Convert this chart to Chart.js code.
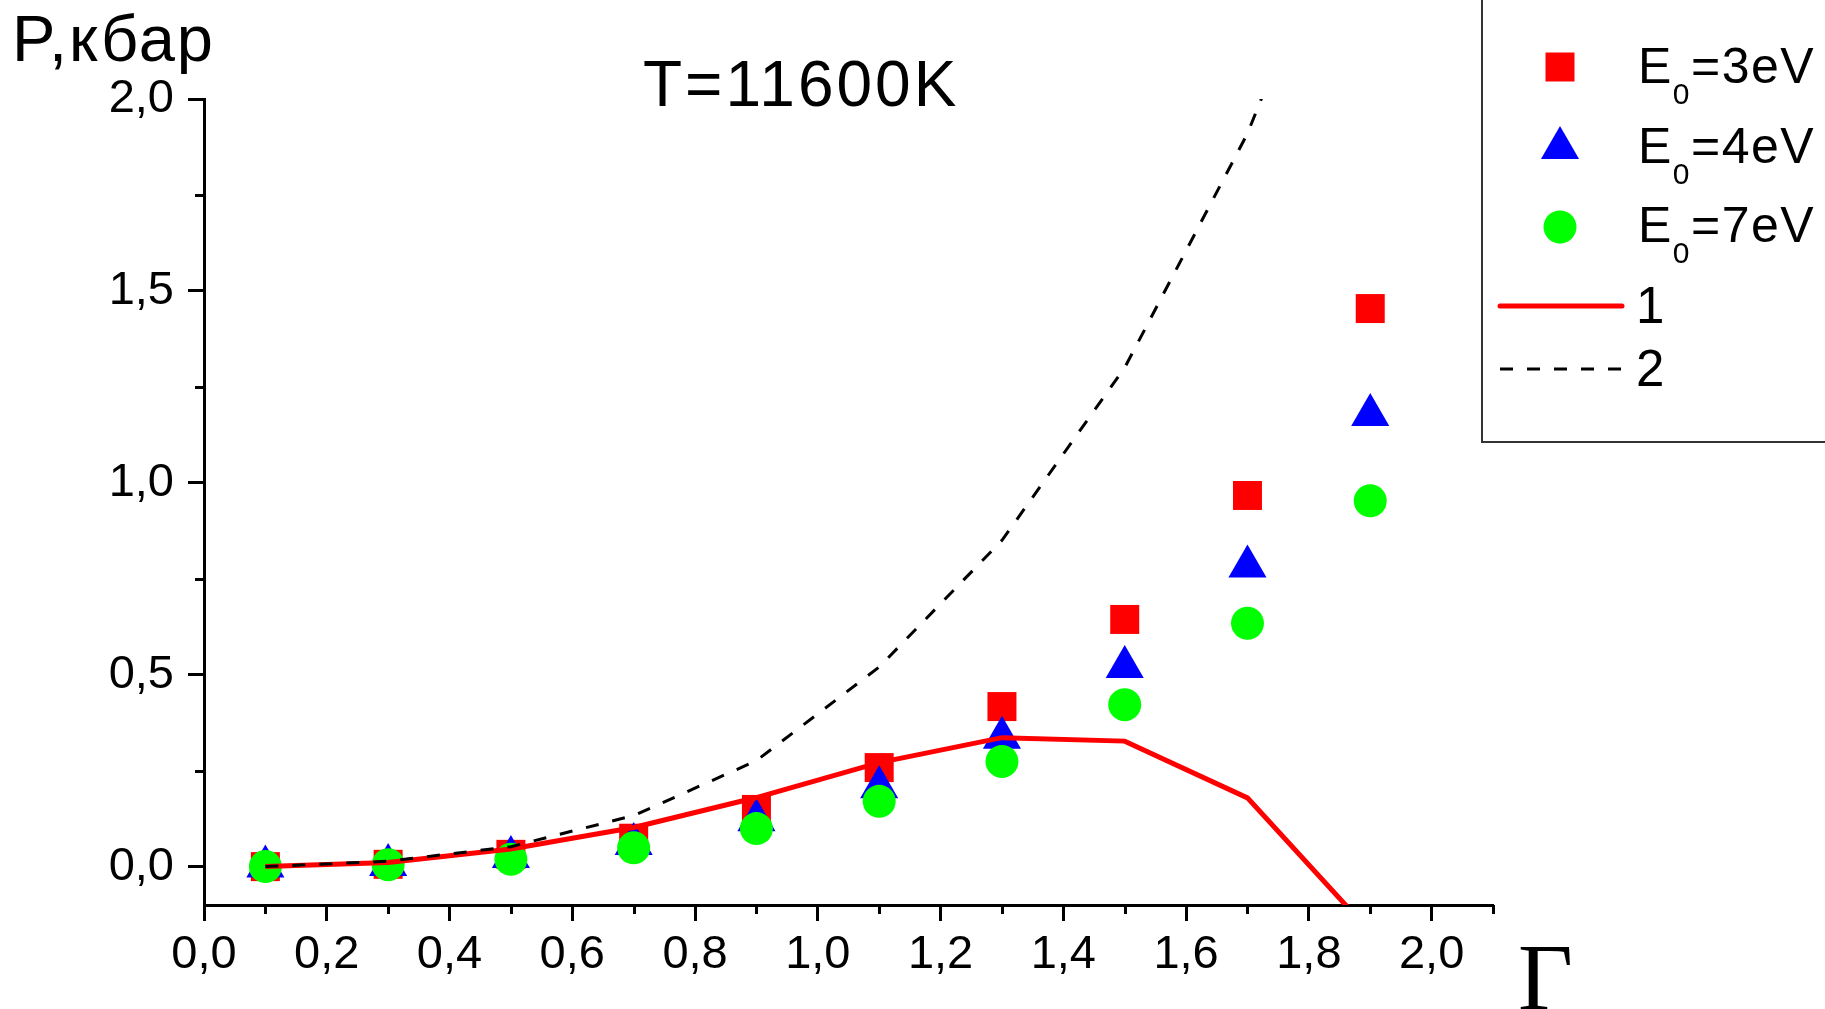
<!DOCTYPE html>
<html>
<head>
<meta charset="utf-8">
<title>P(Γ), T=11600K</title>
<script src="https://cdn.jsdelivr.net/npm/chart.js@4.4.1/dist/chart.umd.min.js"></script>
<style>
  html, body { margin: 0; padding: 0; background: #fff; }
  #wrap { position: relative; width: 1825px; height: 1009px; }
</style>
</head>
<body>
<div id="wrap"><canvas id="graph"></canvas></div>
<script>
// coupling parameter
const gamma = [0.1, 0.3, 0.5, 0.7, 0.9, 1.1, 1.3, 1.5, 1.7, 1.9];

// simulated pressure, kbar, for three cutoff energies
const energies = [3, 4, 7];
const p3eV = [0.0, 0.006, 0.032, 0.074, 0.149, 0.258, 0.417, 0.644, 0.967, 1.454];
const p4eV = [0.0, 0.004, 0.025, 0.059, 0.121, 0.207, 0.336, 0.520, 0.782, 1.177];
const p7eV = [0.0, 0.005, 0.019, 0.049, 0.099, 0.170, 0.274, 0.422, 0.634, 0.953];

// model curves 1 and 2
const curveNames = ['1', '2'];
const curve1 = [0.0, 0.011, 0.046, 0.102, 0.180, 0.271, 0.336, 0.327, 0.179, -0.17];
const curve2 = [0.0, 0.014, 0.052, 0.133, 0.276, 0.520, 0.850, 1.300, 1.910, 2.710];

// axis ticks
const xMajor = [0, 0.2, 0.4, 0.6, 0.8, 1.0, 1.2, 1.4, 1.6, 1.8, 2.0];
const xMinor = [0.1, 0.3, 0.5, 0.7, 0.9, 1.1, 1.3, 1.5, 1.7, 1.9, 2.1];
const yMajor = [0, 0.5, 1.0, 1.5, 2.0];
const yMinor = [0.25, 0.75, 1.25, 1.75];

const FONT = '"Liberation Sans", Arial, sans-serif';
Chart.defaults.font.family = FONT;

function pts(ys) {
    return gamma.map((g, i) => ({ x: g, y: ys[i] }));
}

function comma(v) {
    return v.toFixed(1).replace('.', ',');
}

// minor ticks, axis captions, title and the boxed legend
const overlay = {
    id: 'overlay',
    afterDraw(chart) {
        const ctx = chart.ctx;
        const area = chart.chartArea;
        const sx = chart.scales.x, sy = chart.scales.y;

        ctx.save();
        ctx.strokeStyle = '#000';
        ctx.lineWidth = 3;
        ctx.beginPath();
        xMinor.forEach(v => {
            const px = Math.round(sx.getPixelForValue(v)) + 0.5;
            ctx.moveTo(px, area.bottom);
            ctx.lineTo(px, area.bottom + 9);
        });
        yMinor.forEach(v => {
            const py = Math.round(sy.getPixelForValue(v)) + 0.5;
            ctx.moveTo(area.left, py);
            ctx.lineTo(area.left - 9, py);
        });
        ctx.stroke();

        ctx.fillStyle = '#000';
        ctx.textBaseline = 'alphabetic';
        ctx.textAlign = 'left';
        ctx.letterSpacing = '2px';
        ctx.font = '65px ' + FONT;
        ctx.fillText('P,кбар', 12, 61);

        ctx.letterSpacing = '3px';
        ctx.font = '64px ' + FONT;
        ctx.fillText('T=11600K', 643, 106);

        ctx.letterSpacing = '0px';
        ctx.font = '95px "Liberation Serif", "Times New Roman", serif';
        ctx.fillText('Γ', 1518, 1010);

        // legend box, runs off the top and right edges
        ctx.lineWidth = 2;
        ctx.strokeStyle = '#333';
        ctx.strokeRect(1482, -5, 400, 447);

        const ds = chart.data.datasets;
        const rows = [67, 148, 227];
        const bases = [83, 163, 242];
        ctx.letterSpacing = '1.5px';
        energies.forEach((e, i) => {
            ctx.fillStyle = ds[i].backgroundColor;
            Chart.helpers.drawPoint(ctx, {
                pointStyle: ds[i].pointStyle,
                radius: ds[i].pointRadius,
                rotation: 0,
                borderWidth: 0
            }, 1560, rows[i]);
            ctx.fillStyle = '#000';
            ctx.font = '50px ' + FONT;
            ctx.fillText('E', 1638, bases[i]);
            const w = ctx.measureText('E').width;
            ctx.font = '30px ' + FONT;
            ctx.fillText('0', 1638 + w, bases[i] + 21);
            const w0 = ctx.measureText('0').width;
            ctx.font = '50px ' + FONT;
            ctx.fillText('=' + e + 'eV', 1638 + w + w0, bases[i]);
        });

        const lineRows = [306, 369];
        const lineBases = [323, 386];
        curveNames.forEach((name, i) => {
            const d = ds[3 + i];
            ctx.strokeStyle = d.borderColor;
            ctx.lineWidth = d.borderWidth;
            ctx.lineCap = i === 0 ? 'round' : 'butt';
            ctx.setLineDash(d.borderDash || []);
            ctx.beginPath();
            ctx.moveTo(1500, lineRows[i]);
            ctx.lineTo(1622, lineRows[i]);
            ctx.stroke();
            ctx.setLineDash([]);
            ctx.fillStyle = '#000';
            ctx.font = '51px ' + FONT;
            ctx.fillText(name, 1636, lineBases[i]);
        });
        ctx.restore();
    }
};

const axisLook = {
    grid: {
        drawOnChartArea: false,
        drawTicks: true,
        tickLength: 16,
        tickWidth: 3,
        tickColor: '#000'
    },
    border: { display: true, width: 3, color: '#000' }
};

new Chart(document.getElementById('graph'), {
    type: 'scatter',
    data: {
        datasets: [
            {
                label: 'E0=3eV',
                data: pts(p3eV),
                pointStyle: 'rect',
                pointRadius: 20.5,
                backgroundColor: '#ff0000',
                borderColor: '#ff0000',
                pointBorderWidth: 0,
                order: 4
            },
            {
                label: 'E0=4eV',
                data: pts(p4eV),
                pointStyle: 'triangle',
                pointRadius: 22,
                backgroundColor: '#0000ff',
                borderColor: '#0000ff',
                pointBorderWidth: 0,
                order: 3
            },
            {
                label: 'E0=7eV',
                data: pts(p7eV),
                pointStyle: 'circle',
                pointRadius: 16.5,
                backgroundColor: '#00ff00',
                borderColor: '#00ff00',
                pointBorderWidth: 0,
                order: 2
            },
            {
                label: '1',
                data: pts(curve1),
                showLine: true,
                pointRadius: 0,
                borderColor: '#ff0000',
                borderWidth: 5,
                order: 1
            },
            {
                label: '2',
                data: pts(curve2),
                showLine: true,
                pointRadius: 0,
                borderColor: '#000000',
                borderWidth: 3,
                borderDash: [13, 14],
                order: 0
            }
        ]
    },
    options: {
        responsive: true,
        maintainAspectRatio: false,
        animation: false,
        layout: { padding: { top: 99, right: 332, left: 0, bottom: 0 } },
        plugins: {
            legend: { display: false },
            tooltip: { enabled: false }
        },
        scales: {
            x: {
                type: 'linear',
                min: 0,
                max: 2.1,
                afterBuildTicks: s => { s.ticks = xMajor.map(v => ({ value: v })); },
                afterFit: s => { s.height = 104; },
                ticks: {
                    color: '#000',
                    font: { size: 47 },
                    padding: 6,
                    maxRotation: 0,
                    callback: v => comma(v)
                },
                ...axisLook
            },
            y: {
                type: 'linear',
                min: -0.1,
                max: 2.0,
                afterBuildTicks: s => { s.ticks = yMajor.map(v => ({ value: v })); },
                afterFit: s => { s.width = 204; },
                ticks: {
                    color: '#000',
                    font: { size: 47 },
                    padding: 14,
                    callback: v => comma(v)
                },
                ...axisLook
            }
        }
    },
    plugins: [overlay]
});
</script>
</body>
</html>
